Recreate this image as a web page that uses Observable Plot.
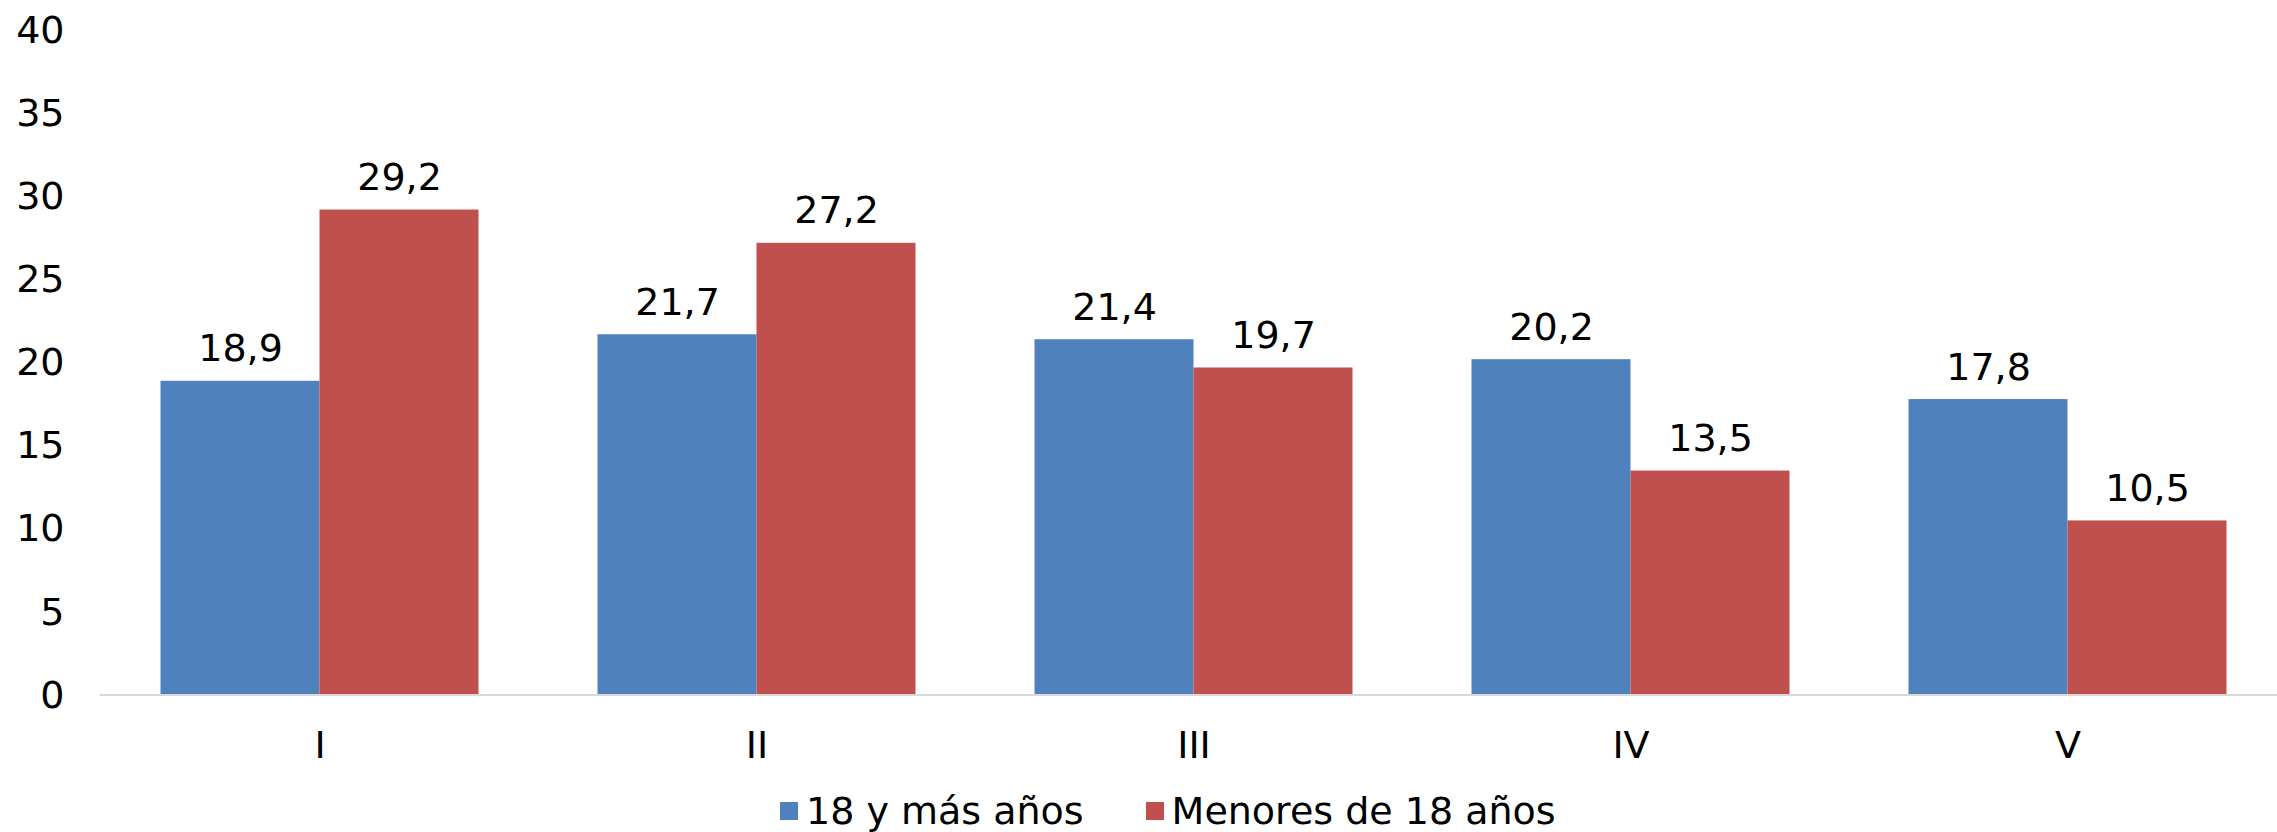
<!DOCTYPE html>
<html>
<head>
<meta charset="utf-8">
<script src="https://cdn.jsdelivr.net/npm/d3@7"></script>
<script src="https://cdn.jsdelivr.net/npm/@observablehq/plot@0.6"></script>
<style>
  html, body { margin: 0; padding: 0; background: #fff; overflow: hidden; }
  body { width: 2277px; height: 832px; font-family: "DejaVu Sans", Verdana, sans-serif; }
  #legend { display: flex; align-items: center; height: 42px; margin-top: 0; padding-left: 780px; font-size: 38px; color: #000; }
  #legend .item { display: flex; align-items: center; margin-right: 62px; }
  #legend .sw { width: 18px; height: 18px; margin-right: 8px; }
</style>
</head>
<body>
<div id="chart"></div>
<div id="legend"></div>
<script>
const categories = ["I", "II", "III", "IV", "V"];
const seriesNames = ["18 y más años", "Menores de 18 años"];
const adults = [18.9, 21.7, 21.4, 20.2, 17.8];
const minors = [29.2, 27.2, 19.7, 13.5, 10.5];
const yTicks = [0, 5, 10, 15, 20, 25, 30, 35, 40];
const colors = ["#4f81bd", "#c0504d"];

const data = categories.flatMap((c, i) => [
  {cat: c, series: seriesNames[0], value: adults[i]},
  {cat: c, series: seriesNames[1], value: minors[i]}
]);
const fmt = v => d3.format(".1f")(v).replace(".", ",");

const plot = Plot.plot({
  width: 2277,
  height: 790,
  marginLeft: 99.5,
  marginRight: -10,
  marginTop: 30,
  marginBottom: 95,
  style: {fontSize: "38px", fontFamily: "'DejaVu Sans', Verdana, sans-serif", color: "#000", background: "#fff", overflow: "visible"},
  fx: {domain: categories, paddingInner: 0.27, paddingOuter: 0.135, axis: "bottom", tickSize: 0, tickPadding: 36, label: null},
  x: {domain: seriesNames, padding: 0, axis: null},
  y: {domain: [0, 40], ticks: yTicks, tickSize: 0, tickPadding: 96, label: null},
  color: {domain: seriesNames, range: colors},
  facet: {data: data, x: "cat"},
  marks: [
    Plot.barY(data, {x: "series", y: "value", fill: "series"}),
    Plot.text(data, {x: "series", y: "value", text: d => fmt(d.value), lineAnchor: "bottom", dy: -20, fill: "#000"})
  ]
});
document.getElementById("chart").appendChild(plot);

// baseline across the full plot width
const y0 = plot.scale("y").apply(0);
d3.select(plot).append("line")
  .attr("x1", 99.5).attr("x2", 2277)
  .attr("y1", y0).attr("y2", y0)
  .attr("stroke", "#d9d9d9").attr("stroke-width", 2);

const legend = document.getElementById("legend");
seriesNames.forEach((s, i) => {
  const item = document.createElement("div");
  item.className = "item";
  const sw = document.createElement("div");
  sw.className = "sw";
  sw.style.background = colors[i];
  const t = document.createElement("span");
  t.textContent = s;
  item.appendChild(sw);
  item.appendChild(t);
  legend.appendChild(item);
});
</script>
</body>
</html>
